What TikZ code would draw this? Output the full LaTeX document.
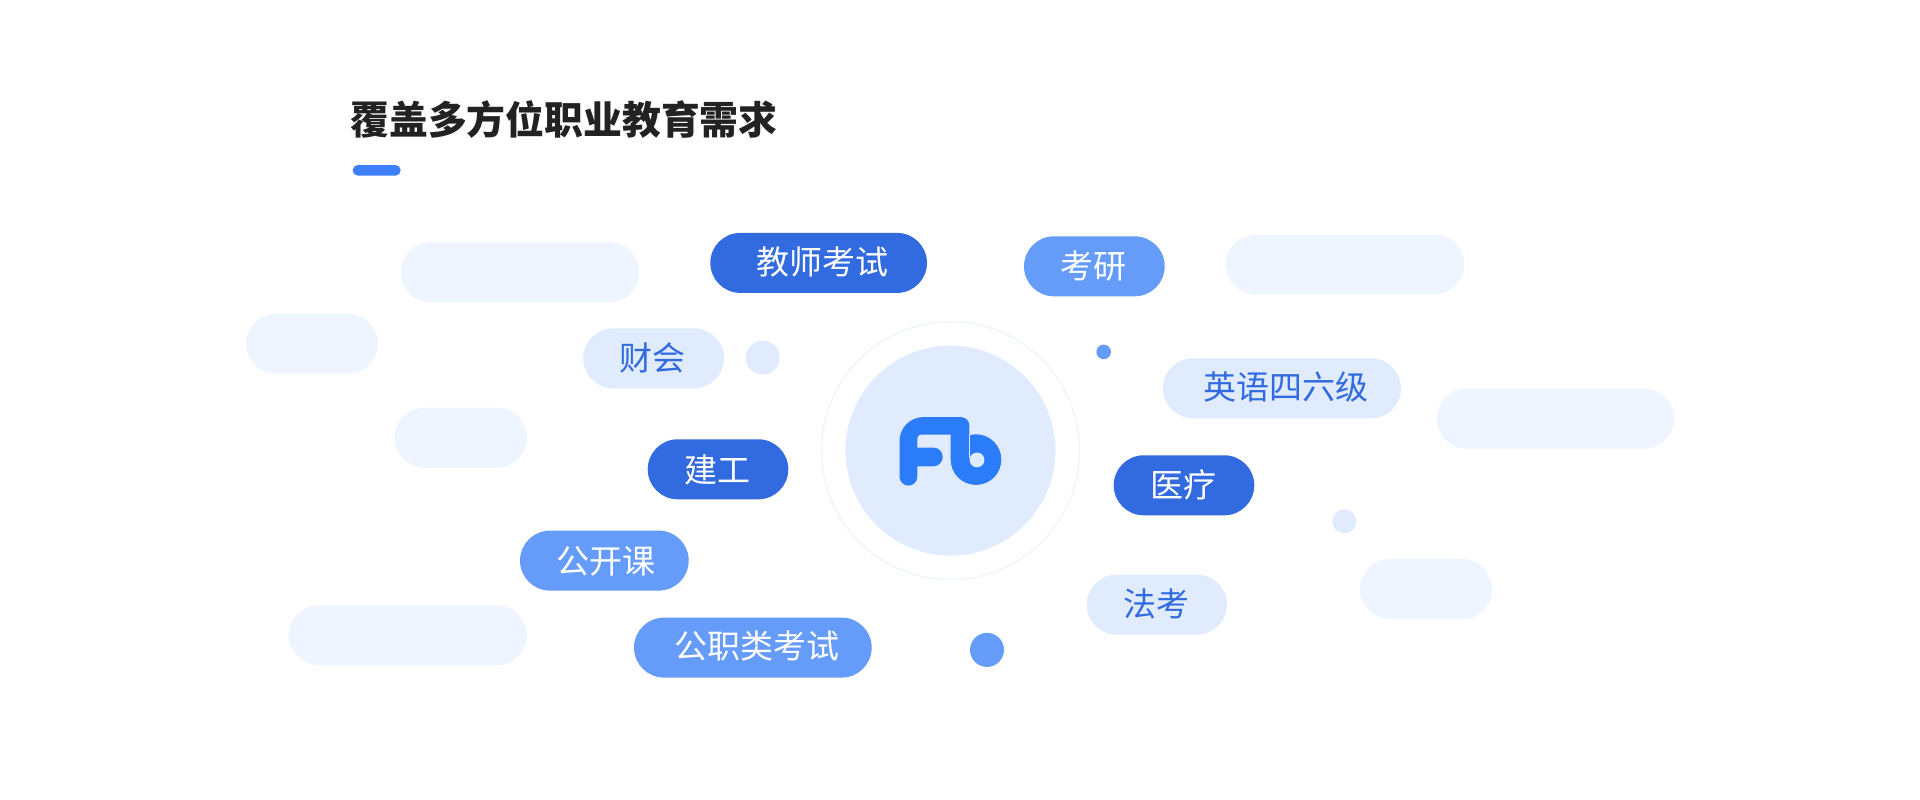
\documentclass[tikz,border=0pt]{standalone}
\usepackage{fontspec}
\setmainfont{Noto Sans CJK SC}
\definecolor{ghost}{HTML}{EEF5FF}
\definecolor{pale}{HTML}{E0EBFE}
\definecolor{mid}{HTML}{659CFA}
\definecolor{deep}{HTML}{326BDF}
\definecolor{logoblue}{HTML}{2B7CF8}
\definecolor{barblue}{HTML}{3D7FFB}
\definecolor{ink}{HTML}{222222}
% \pill{name}{x0}{y0}{x1}{y1}{style}
\newcommand{\pill}[6]{%
  \pgfmathsetmacro{\pw}{#4-#2}\pgfmathsetmacro{\ph}{#5-#3}%
  \pgfmathsetmacro{\pcx}{(#2+#4)/2}\pgfmathsetmacro{\pcy}{(#3+#5)/2}%
  \pgfmathsetmacro{\pr}{\ph/2}%
  \node[#6,minimum width=\pw pt,minimum height=\ph pt,rounded corners=\pr pt] (#1) at (\pcx,\pcy) {};}
\tikzset{
  x=1pt,y=-1pt,
  pillbase/.style={shape=rectangle,draw=none,inner sep=0pt,outer sep=0pt},
  ghostpill/.style={pillbase,fill=ghost},
  palepill/.style={pillbase,fill=pale},
  midpill/.style={pillbase,fill=mid},
  deeppill/.style={pillbase,fill=deep},
  lighttext/.style={text=white,font=\fontsize{33}{33}\selectfont,inner sep=0pt},
  bluetext/.style={text=deep,font=\fontsize{33}{33}\selectfont,inner sep=0pt},
  dotbase/.style={circle,draw=none,inner sep=0pt,outer sep=0pt},
  paledot/.style={dotbase,fill=pale},
  middot/.style={dotbase,fill=mid},
}
\begin{document}
\begin{tikzpicture}
\useasboundingbox[fill=white] (0,0) rectangle (1920,800);
% title
\node[text=ink,font=\fontsize{38.85}{39}\selectfont\bfseries,inner sep=0pt] (title) at (564,119.5) {覆盖多方位职业教育需求};
\pill{bar}{352.7}{165}{400.7}{175.7}{pillbase,fill=barblue}
\begin{scope}[yshift=0.4pt]
% ghost pills
\pill{g1}{401}{242.7}{639}{302.7}{ghostpill}
\pill{g2}{246}{314}{378}{374}{ghostpill}
\pill{g3}{394.7}{408}{526.7}{468}{ghostpill}
\pill{g4}{288.7}{605.7}{526.7}{665.7}{ghostpill}
\pill{g5}{1226}{235}{1464}{295}{ghostpill}
\pill{g6}{1436.7}{389}{1674}{449}{ghostpill}
\pill{g7}{1360}{559.3}{1492}{619.3}{ghostpill}
% dots
\node[paledot,minimum size=34pt] (d1) at (762.7,358) {};
\node[middot,minimum size=14.6pt] (d2) at (1103.7,352.3) {};
\node[paledot,minimum size=24pt] (d3) at (1344.3,521.7) {};
\node[middot,minimum size=34pt] (d4) at (987,650.3) {};
% centre
\node[dotbase,draw=ghost,line width=1.3pt,minimum size=258pt] (ring) at (950.5,451) {};
\node[paledot,minimum size=210pt] (core) at (950.5,451) {};
% logo
\fill[logoblue] (899.5,477) -- (899.5,441.5)
  .. controls (899.5,428.2) and (910.2,417.5) .. (923.5,417.5) -- (961,417.5)
  .. controls (965.6,417.5) and (969.3,421.2) .. (969.3,425.8) -- (969.3,460) -- (950.5,460) -- (950.5,435) -- (921,435)
  .. controls (918.8,435) and (917.3,436.5) .. (917.3,438.7) -- (917.3,448) -- (933.5,448)
  .. controls (938.6,448) and (942.7,452.2) .. (942.7,457.3)
  .. controls (942.7,462.5) and (938.6,466.7) .. (933.5,466.7) -- (917.3,466.7) -- (917.3,477)
  .. controls (917.3,482) and (913.3,486) .. (908.4,486)
  .. controls (903.5,486) and (899.5,482) .. (899.5,477) -- cycle;
\node[dotbase,fill=logoblue,minimum size=50.6pt] (logob) at (976,460) {};
\node[paledot,minimum size=14.8pt] (logohole) at (977,460.3) {};
\draw[pale,line width=0.5pt] (969.7,434.5) -- (969.7,458);
% labelled pills
\pill{p1}{710.3}{233.3}{927}{293.3}{deeppill}
\node[lighttext] (t1) at (822.5,262) {教师考试};
\pill{p2}{1024}{236.7}{1164.7}{296.7}{midpill}
\node[lighttext] (t2) at (1093,266.7) {考研};
\pill{p3}{583.3}{328.7}{724}{388.7}{palepill}
\node[bluetext] (t3) at (652,358) {财会};
\pill{p4}{1163}{358.7}{1401}{418.7}{palepill}
\node[bluetext] (t4) at (1285.5,387.7) {英语四六级};
\pill{p5}{647.7}{439.7}{788.3}{499.7}{deeppill}
\node[lighttext] (t5) at (717.5,470) {建工};
\pill{p6}{1113.7}{455.7}{1254.3}{515.7}{deeppill}
\node[lighttext] (t6) at (1183,485.7) {医疗};
\pill{p7}{520}{531}{688.7}{591}{midpill}
\node[lighttext] (t7) at (605.7,561.7) {公开课};
\pill{p8}{634}{618}{871.7}{678}{midpill}
\node[lighttext] (t8) at (756.7,646.7) {公职类考试};
\pill{p9}{1086.7}{575}{1227}{635}{palepill}
\node[bluetext] (t9) at (1156,604) {法考};
\end{scope}
\end{tikzpicture}
\end{document}
